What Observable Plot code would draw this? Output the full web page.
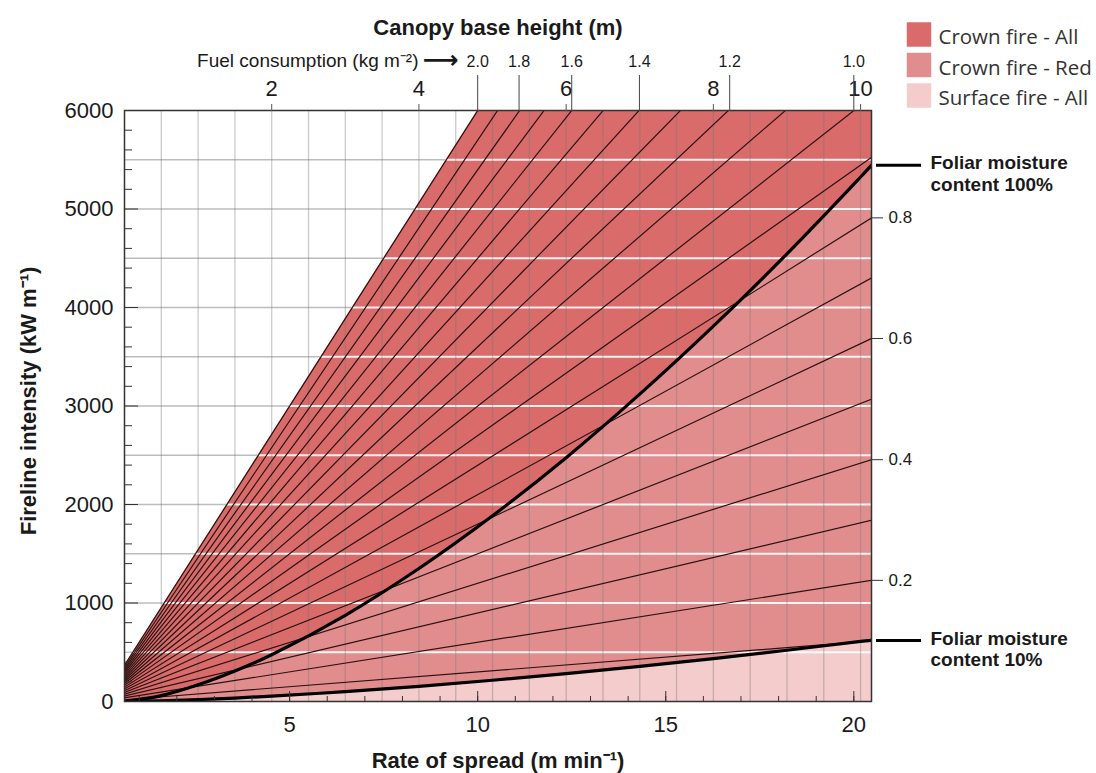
<!DOCTYPE html>
<html>
<head>
<meta charset="utf-8">
<script src="https://cdn.jsdelivr.net/npm/d3@7"></script>
<script src="https://cdn.jsdelivr.net/npm/@observablehq/plot@0.6"></script>
<style>
  html, body { margin: 0; padding: 0; background: #fff; }
  #chart svg { display: block; }
</style>
</head>
<body>
<div id="chart"></div>
<script>
// ---------- data ----------
const rosDomain = [0.61, 20.47];              // rate of spread (m/min) shown on the bottom axis
const intensityDomain = [0, 6000];            // fireline intensity (kW/m)
const rosMajorTicks = [5, 10, 15, 20];
const rosMinorTicks = [1, 2, 3, 4, 5, 6, 7, 8, 9, 10, 11, 12, 13, 14, 15, 16, 17, 18, 19, 20];
const intensityMajorTicks = [0, 1000, 2000, 3000, 4000, 5000, 6000];
const intensityMinorTicks = [200, 400, 600, 800, 1200, 1400, 1600, 1800, 2200, 2400, 2600, 2800,
  3200, 3400, 3600, 3800, 4200, 4400, 4600, 4800, 5200, 5400, 5600, 5800];
const intensityGrid = [500, 1000, 1500, 2000, 2500, 3000, 3500, 4000, 4500, 5000, 5500];

// canopy base height (top axis) and where it sits against rate of spread
const cbhTicks = [2, 4, 6, 8, 10];
const cbhGrid = [0.5, 1, 1.5, 2, 2.5, 3, 3.5, 4, 4.5, 5, 5.5, 6, 6.5, 7, 7.5, 8, 8.5, 9, 9.5, 10];
const cbhCalibrationCbh = [0, 10];
const cbhCalibrationRos = [0.61, 20.18];

// fuel consumption labels along the top and the rate of spread where each line meets 6000 kW/m
const fuelLabels = ["2.0", "1.8", "1.6", "1.4", "1.2", "1.0"];
const fuelTopRos = [10, 11.1, 12.5, 14.3, 16.7, 20];

// fuel consumption isolines (kg/m2): intensity reached at the right edge of the chart
const lineFuelLoads = [0.1, 0.2, 0.3, 0.4, 0.5, 0.6, 0.7, 0.8, 0.9, 1.0,
  1.1, 1.2, 1.3, 1.4, 1.5, 1.6, 1.7, 1.8, 1.9, 2.0];
const lineIntensityAtRight = [615, 1230, 1840, 2455, 3070, 3685, 4300, 4910, 5525, 6140,
  6755, 7370, 7980, 8595, 9210, 9825, 10440, 11050, 11665, 12280];

// right-hand labels of the isolines
const rightTickLabels = ["0.2", "0.4", "0.6", "0.8"];
const rightTickIntensity = [1230, 2455, 3685, 4910];

// critical intensity curves (by canopy base height)
const fmcCbh = [0, 0.5, 1, 1.5, 2, 3, 4, 5, 6, 7, 8, 9, 10, 10.15];
const fmc100Intensity = [0, 60, 170, 310, 475, 875, 1350, 1885, 2475, 3120, 3810, 4545, 5325, 5445];
const fmc10Intensity = [0, 7, 19, 35, 55, 100, 154, 216, 283, 357, 436, 520, 610, 620];
const fmcLabels = ["Foliar moisture\ncontent 100%", "Foliar moisture\ncontent 10%"];
const fmcLabelIntensity = [5445, 620];

// upper limit of the modelled domain (the 2.0 kg/m2 line capped at 6000 kW/m)
const crownLimitRos = [0, 10, 20.47];
const crownLimitIntensity = [0, 6000, 6000];

// legend
const legendLabels = ["Crown fire - All", "Crown fire - Red", "Surface fire - All"];

// ---------- styles ----------
const palette = ["#d96b6b", "#e28d8d", "#f5cccc"];
const ink = "#1a1a1a";

// ---------- derived tables ----------
const cbhToRos = d3.scaleLinear().domain(cbhCalibrationCbh).range(cbhCalibrationRos);
const limitRosAt = d3.scaleLinear().domain(crownLimitIntensity.slice(0, 2)).range(crownLimitRos.slice(0, 2));
const crownLimit = crownLimitRos.map((r, k) => ({r, i: crownLimitIntensity[k]}));
const fmc100 = fmcCbh.map((c, k) => ({r: cbhToRos(c), i: fmc100Intensity[k]}));
const fmc10 = fmcCbh.map((c, k) => ({r: cbhToRos(c), i: fmc10Intensity[k]}));
const fuelLines = lineFuelLoads.flatMap((w, k) => [
  {w, r: 0, i: 0},
  {w, r: rosDomain[1], i: lineIntensityAtRight[k]}
]);
const cbhTickRos = cbhTicks.map(cbhToRos);
const fmcEnds = fmcLabels.map((t, k) => ({t, i: fmcLabelIntensity[k]}));

const legendMarks = legendLabels.flatMap((label, k) => [
  Plot.dot([label], {frameAnchor: "top-right", dx: 47.5, dy: -76 + 30.5 * k,
    symbol: "square", r: 13.8, fill: palette[k], stroke: null}),
  Plot.text([label], {frameAnchor: "top-right", dx: 67, dy: -73 + 30.5 * k, text: d => d,
    textAnchor: "start", lineAnchor: "middle", fontFamily: "'Open Sans', 'Noto Sans', sans-serif", fontSize: 20.5, fill: "#333"})
]);

const chart = Plot.plot({
  width: 1096,
  height: 773,
  marginLeft: 124,
  marginRight: 225,
  marginTop: 110,
  marginBottom: 72,
  x: {domain: rosDomain, label: null},
  y: {domain: intensityDomain, label: null},
  style: {fontFamily: "'Liberation Sans', Arial, Helvetica, sans-serif", background: "#fff", color: ink, overflow: "visible"},
  marks: [
    // gray horizontal grid in the open area
    Plot.ruleY(intensityGrid, {y: d => d, x1: rosDomain[0], x2: d => limitRosAt(d), stroke: "#bdbdbd", strokeWidth: 1.3}),
    // filled regimes
    Plot.areaY(crownLimit, {x: "r", y: "i", fill: palette[0], clip: true}),
    Plot.areaY(fmc100, {x: "r", y: "i", fill: palette[1], curve: "catmull-rom", clip: true}),
    Plot.areaY(fmc10, {x: "r", y: "i", fill: palette[2], curve: "catmull-rom", clip: true}),
    // white horizontal grid over the fill
    Plot.ruleY(intensityGrid, {y: d => d, x1: d => limitRosAt(d), x2: rosDomain[1], stroke: "#fff", strokeWidth: 2, strokeOpacity: 0.9}),
    // vertical grid (canopy base height every 0.5 m)
    Plot.ruleX(cbhGrid, {x: d => cbhToRos(d), stroke: "#777", strokeOpacity: 0.38, strokeWidth: 1.3}),
    // fuel consumption isolines
    Plot.line(fuelLines, {x: "r", y: "i", z: "w", stroke: "#2a1212", strokeWidth: 1.2, clip: true}),
    // critical intensity curves
    Plot.line(fmc100, {x: "r", y: "i", curve: "catmull-rom", stroke: "#000", strokeWidth: 3.2, clip: true}),
    Plot.line(fmc10, {x: "r", y: "i", curve: "catmull-rom", stroke: "#000", strokeWidth: 3.2, clip: true}),
    Plot.frame({stroke: "#333", strokeWidth: 1.5}),

    // left axis
    Plot.axisY(intensityMinorTicks, {anchor: "left", tickSize: -8, tickFormat: () => "", stroke: "#333"}),
    Plot.axisY(intensityMajorTicks, {anchor: "left", tickSize: -14, tickFormat: () => "", stroke: "#333"}),
    Plot.axisY(intensityMajorTicks, {anchor: "left", tickSize: 0, tickPadding: 11, fontSize: 22, tickFormat: d => String(d)}),
    // bottom axis
    Plot.axisX(rosMinorTicks, {anchor: "bottom", tickSize: -5, tickFormat: () => "", stroke: "#333"}),
    Plot.axisX(rosMajorTicks, {anchor: "bottom", tickSize: -10, tickFormat: () => "", stroke: "#333"}),
    Plot.axisX(rosMajorTicks, {anchor: "bottom", tickSize: 0, tickPadding: 15, fontSize: 22, tickFormat: d => String(d)}),
    // top axis: canopy base height
    Plot.axisX(cbhTickRos, {anchor: "top", tickSize: 7, tickPadding: 8, fontSize: 22, stroke: "#555",
      tickFormat: d => String(cbhTicks[cbhTickRos.indexOf(d)])}),
    // top axis: fuel consumption
    Plot.axisX(fuelTopRos, {anchor: "top", tickSize: 36, tickPadding: 8, fontSize: 16, stroke: "#444",
      tickFormat: d => fuelLabels[fuelTopRos.indexOf(d)]}),
    // right axis: isoline labels
    Plot.axisY(rightTickIntensity, {anchor: "right", tickSize: 11, tickPadding: 6, fontSize: 17, stroke: "#333",
      tickFormat: d => rightTickLabels[rightTickIntensity.indexOf(d)]}),
    // foliar moisture labels
    Plot.axisY(fmcLabelIntensity, {anchor: "right", tickSize: 45, dx: 4, strokeWidth: 3, stroke: "#000", tickFormat: () => ""}),
    Plot.text(fmcEnds, {y: "i", frameAnchor: "right", dx: 59, dy: -11, text: "t", textAnchor: "start", lineAnchor: "top",
      lineHeight: 1.12, fontWeight: "bold", fontSize: 19}),

    // titles
    Plot.text(["Canopy base height (m)"], {frameAnchor: "top", dy: -83, text: d => d, lineAnchor: "middle",
      fontWeight: "bold", fontSize: 22}),
    Plot.text(["Fuel consumption (kg m\u207B\u00B2)"], {frameAnchor: "top-left", dx: 294, dy: -50, text: d => d,
      textAnchor: "end", lineAnchor: "middle", fontSize: 19}),
    Plot.text(["\u27F6"], {frameAnchor: "top-left", dx: 298, dy: -51, text: d => d,
      textAnchor: "start", lineAnchor: "middle", fontFamily: "'DejaVu Sans', sans-serif", fontSize: 25, fontWeight: "bold"}),
    Plot.text(["Rate of spread (m min\u207B\u00B9)"], {frameAnchor: "bottom", dy: 59, text: d => d, lineAnchor: "middle",
      fontWeight: "bold", fontSize: 22}),
    Plot.text(["Fireline intensity (kW m\u207B\u00B9)"], {frameAnchor: "left", dx: -96, dy: -5, rotate: -90, text: d => d,
      textAnchor: "middle", lineAnchor: "middle", fontWeight: "bold", fontSize: 22}),

    ...legendMarks
  ]
});

document.getElementById("chart").append(chart);
</script>
</body>
</html>
